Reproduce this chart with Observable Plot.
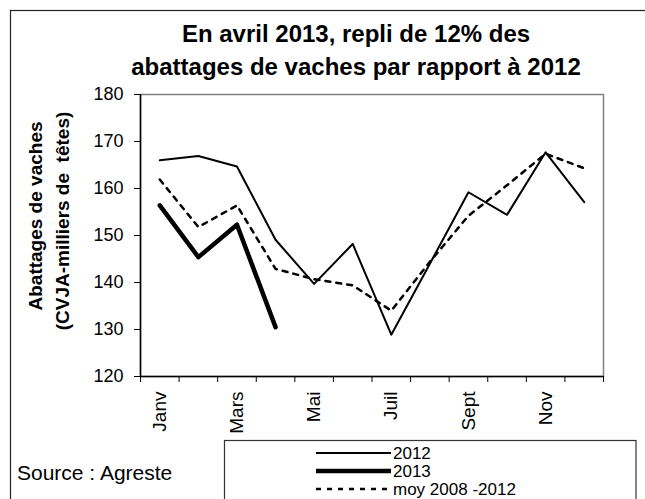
<!DOCTYPE html>
<html>
<head>
<meta charset="utf-8">
<script src="https://cdn.jsdelivr.net/npm/d3@7"></script>
<script src="https://cdn.jsdelivr.net/npm/@observablehq/plot@0.6"></script>
<style>
  html, body { margin: 0; padding: 0; background: #fff; }
  #wrap { position: relative; width: 645px; height: 499px; overflow: hidden; font-family: "Liberation Sans", Arial, sans-serif; }
  #wrap > svg { position: absolute; left: 0; top: 0; }
</style>
</head>
<body>
<div id="wrap"></div>
<script>
const months = ["Janv", "Févr", "Mars", "Avr", "Mai", "Juin", "Juil", "Août", "Sept", "Oct", "Nov", "Déc"];
const shownMonths = ["Janv", "Mars", "Mai", "Juil", "Sept", "Nov"];
const yTicks = [120, 130, 140, 150, 160, 170, 180];
const v2012 = [166.0, 166.9, 164.7, 149.1, 139.7, 148.2, 128.9, 144.0, 159.2, 154.4, 167.7, 157.1];
const v2013 = [156.4, 145.4, 152.3, 130.5];
const vMoy = [161.9, 151.8, 156.4, 142.9, 140.7, 139.4, 134.0, 144.4, 154.2, 160.7, 167.4, 164.3];
const seriesNames = ["2012", "2013", "moy 2008 -2012"];
const title = ["En avril 2013, repli de 12% des", "abattages de vaches par rapport à 2012"];
const yLabel = ["Abattages de vaches", "(CVJA-milliers de  têtes)"];
const source = "Source : Agreste";

const toPts = arr => arr.map((v, i) => ({x: i + 0.5, y: v}));
const labelPos = shownMonths.map(m => months.indexOf(m) + 0.5);

const chart = Plot.plot({
  width: 645,
  height: 499,
  marginLeft: 140,
  marginRight: 42,
  marginTop: 94,
  marginBottom: 123,
  style: {fontFamily: '"Liberation Sans", Arial, sans-serif', color: "black", background: "transparent", overflow: "visible"},
  x: {domain: [0, 12], axis: null},
  y: {domain: [120, 180], axis: null},
  marks: [
    Plot.frame({stroke: "#808080", strokeWidth: 1.5}),
    Plot.axisY({ticks: yTicks, tickSize: 6, tickPadding: 11, label: null, fontSize: 18, stroke: "black"}),
    Plot.axisX({ticks: d3.range(0, 13), tickSize: 6, tickFormat: () => "", label: null, stroke: "black"}),
    Plot.axisX({ticks: labelPos, tickSize: 0, tickPadding: 15, tickRotate: -90, tickFormat: d => months[Math.floor(d)], label: null, fontSize: 19}),
    Plot.ruleX([0], {stroke: "black", strokeWidth: 1.5}),
    Plot.ruleY([120], {stroke: "black", strokeWidth: 1.5}),
    Plot.line(toPts(vMoy), {x: "x", y: "y", stroke: "black", strokeWidth: 2.5, strokeDasharray: "5,6"}),
    Plot.line(toPts(v2012), {x: "x", y: "y", stroke: "black", strokeWidth: 2}),
    Plot.line(toPts(v2013), {x: "x", y: "y", stroke: "black", strokeWidth: 4.5})
  ]
});
document.getElementById("wrap").appendChild(chart);

// Overlay: title, y label, legend, source, borders
const ov = d3.select("#wrap").append("svg").attr("width", 645).attr("height", 499)
  .style("font-family", '"Liberation Sans", Arial, sans-serif');

ov.append("rect").attr("x", 10.5).attr("y", 10.5).attr("width", 700).attr("height", 600)
  .attr("fill", "none").attr("stroke", "#222").attr("stroke-width", 1.2);

ov.selectAll("text.title").data(title).join("text").attr("class", "title")
  .attr("x", 356).attr("y", (d, i) => 42 + i * 33)
  .attr("text-anchor", "middle").attr("font-weight", "bold").attr("font-size", 24).text(d => d);

ov.selectAll("text.ylab").data(yLabel).join("text").attr("class", "ylab")
  .attr("transform", (d, i) => `translate(${42 + i * 27},${216 + i * 5}) rotate(-90)`)
  .attr("text-anchor", "middle").attr("font-weight", "bold").attr("font-size", 19)
  .style("white-space", "pre").text(d => d);

ov.append("text").attr("x", 17).attr("y", 480).attr("font-size", 21).text(source);

ov.append("rect").attr("x", 224.5).attr("y", 440.5).attr("width", 411.5).attr("height", 100)
  .attr("fill", "none").attr("stroke", "#333").attr("stroke-width", 1.2);

const legStyles = [
  {w: 2, dash: null},
  {w: 4.5, dash: null},
  {w: 2.5, dash: "5,6"}
];
seriesNames.forEach((name, i) => {
  const ly = 453 + i * 18;
  const ln = ov.append("line").attr("x1", 316).attr("x2", 391).attr("y1", ly).attr("y2", ly)
    .attr("stroke", "black").attr("stroke-width", legStyles[i].w);
  if (legStyles[i].dash) ln.attr("stroke-dasharray", legStyles[i].dash);
  ov.append("text").attr("x", 393).attr("y", ly + 6).attr("font-size", 17).text(name);
});
</script>
</body>
</html>
